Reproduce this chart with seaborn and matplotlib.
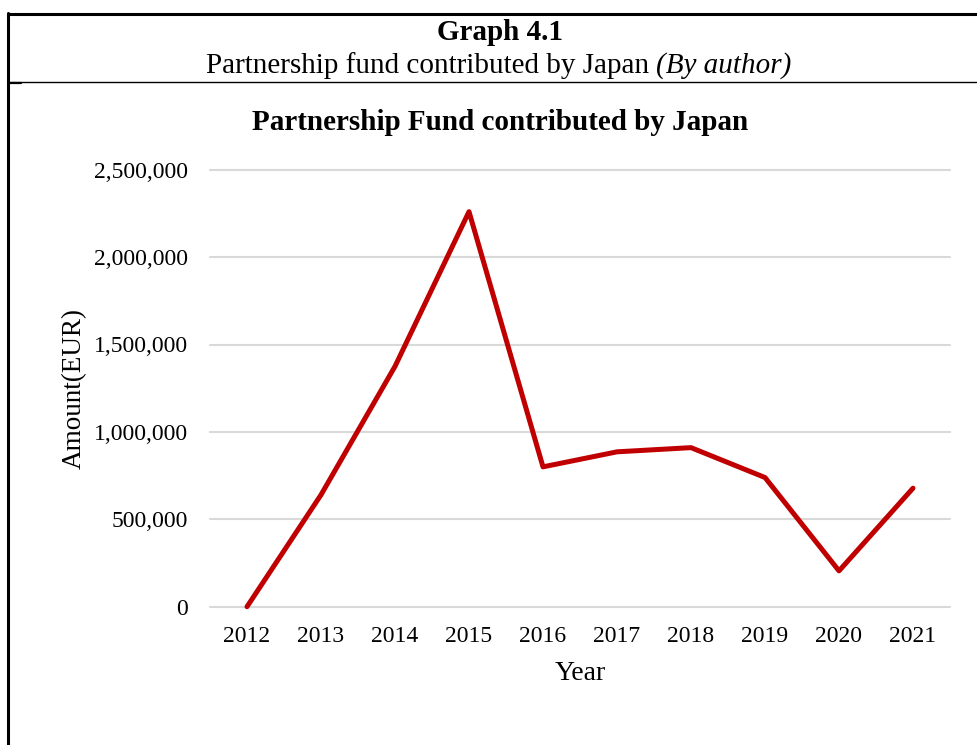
import matplotlib
matplotlib.use("Agg")
import matplotlib.pyplot as plt
import matplotlib.ticker as mticker
from matplotlib.lines import Line2D
import seaborn as sns
import pandas as pd

years = [2012, 2013, 2014, 2015, 2016, 2017, 2018, 2019, 2020, 2021]
amounts = [0, 640000, 1375000, 2260000, 800000, 886000, 910000, 739000, 205000, 678000]
y_ticks = [0, 500000, 1000000, 1500000, 2000000, 2500000]

df = pd.DataFrame({"Year": years, "Amount": amounts})

sns.set_theme(style="white")
plt.rcParams['font.family'] = ['Liberation Serif', 'DejaVu Serif']

W, H = 978, 745
fig = plt.figure(figsize=(W / 100, H / 100), dpi=100)
fig.patch.set_facecolor("white")

ax = fig.add_axes([210 / W, 1 - 606.7 / H, 740 / W, 437 / H])
sns.lineplot(data=df, x="Year", y="Amount", ax=ax, color="#c00000", linewidth=3.6,
             solid_capstyle="round", solid_joinstyle="round")
for ln in ax.get_lines():
    ln.set_clip_on(False)
    ln.set_zorder(3)

ax.set_xlim(2011.5, 2021.5)
ax.set_ylim(0, 2500000)
ax.set_xticks(years)
ax.set_xticklabels([str(y) for y in years])
ax.set_yticks(y_ticks)
ax.yaxis.set_major_formatter(mticker.FuncFormatter(lambda v, p: f"{int(v):,}"))
ax.tick_params(axis="both", length=0, labelsize=17, colors="black")
ax.tick_params(axis="y", pad=16)
ax.tick_params(axis="x", pad=14)
ax.grid(axis="y", color="#d9d9d9", linewidth=1.5)
ax.grid(axis="x", visible=False)
for gl in ax.get_ygridlines():
    gl.set_clip_on(False)
ax.set_axisbelow(True)
for s in ax.spines.values():
    s.set_visible(False)

ax.set_xlabel("Year", fontsize=20, color="black", labelpad=10)
ax.set_ylabel("Amount(EUR)", fontsize=19.5, color="black", labelpad=5)

fig.text(500 / W, 1 - 123 / H, "Partnership Fund contributed by Japan", ha="center", va="center",
         fontsize=21, fontweight="bold", color="black")
fig.text(500 / W, 1 - 33 / H, "Graph 4.1", ha="center", va="center",
         fontsize=21, fontweight="bold", color="black")
t1 = fig.text(499 / W, 1 - 66 / H, "Partnership fund contributed by Japan ", ha="right", va="center",
              fontsize=21, color="black")
fig.canvas.draw()
bb = t1.get_window_extent()
t2 = fig.text(0, 1 - 66 / H, "(By author)", ha="left", va="center",
              fontsize=21, fontstyle="italic", color="black")
bb2 = t2.get_window_extent()
total = bb.width + bb2.width
start = 499 - total / 2
t1.set_ha("left")
t1.set_x(start / W)
t2.set_x((start + bb.width) / W)

# border lines
fig.add_artist(Line2D([8 / W, 1], [1 - 14 / H, 1 - 14 / H], color="black", linewidth=2.2))
fig.add_artist(Line2D([8 / W, 8 / W], [1 - 13 / H, 0], color="black", linewidth=2.2))
fig.add_artist(Line2D([8 / W, 1], [1 - 82 / H, 1 - 82 / H], color="black", linewidth=1.0))
fig.add_artist(Line2D([8 / W, 21 / W], [1 - 83 / H, 1 - 83 / H], color="black", linewidth=1.6))

fig.savefig("out.png", dpi=100, facecolor="white")
